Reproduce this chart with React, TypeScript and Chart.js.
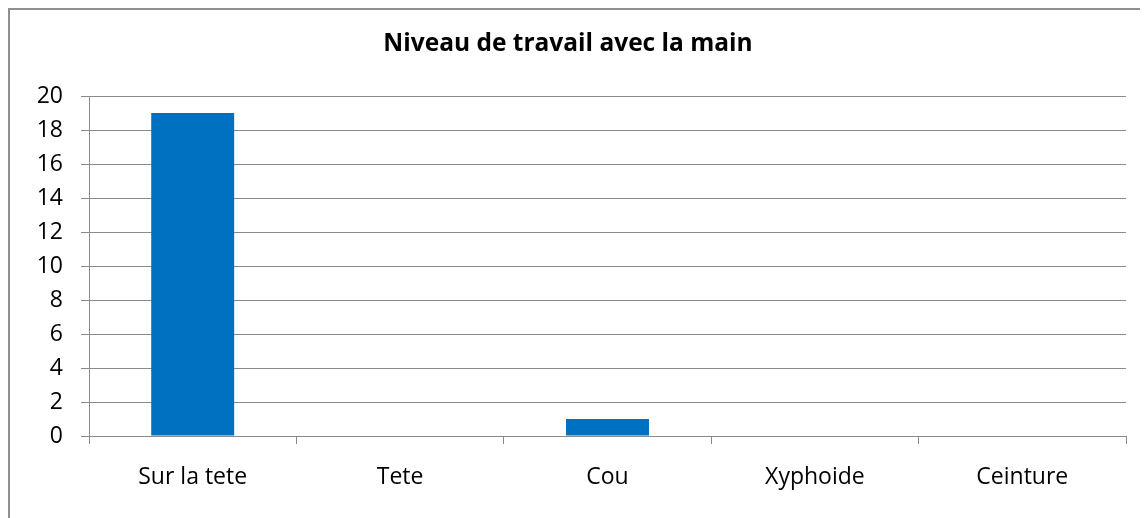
import React, { useEffect, useRef } from "react";
import { Chart, registerables } from "chart.js";

Chart.register(...registerables);

const categories = ["Sur la tete", "Tete", "Cou", "Xyphoide", "Ceinture"];
const values = [19, 0, 1, 0, 0];
const titleText = "Niveau de travail avec la main";
const yMin = 0;
const yMax = 20;
const yStep = 2;

const FONT = "'Open Sans', sans-serif";
const GRID = "#8a8a8a";

export default function App() {
  const ref = useRef<HTMLCanvasElement | null>(null);

  useEffect(() => {
    if (!ref.current) return;
    const chart = new Chart(ref.current, {
      type: "bar",
      data: {
        labels: categories,
        datasets: [
          {
            data: values,
            backgroundColor: "#0070C0",
            borderWidth: 0,
            barPercentage: 0.4,
            categoryPercentage: 1,
          },
        ],
      },
      options: {
        animation: false,
        responsive: false,
        maintainAspectRatio: false,
        layout: { padding: { left: 0, right: 22, top: 0, bottom: 0 } },
        plugins: {
          legend: { display: false },
          tooltip: { enabled: false },
          title: {
            display: true,
            text: titleText,
            color: "#000",
            font: { family: FONT, size: 24.5, weight: "bold" },
            padding: { top: 19.5, bottom: 37.1 },
          },
        },
        scales: {
          x: {
            grid: {
              display: true,
              drawOnChartArea: false,
              drawTicks: true,
              tickLength: 8,
              color: GRID,
              offset: true,
            },
            border: { display: true, color: GRID, width: 1 },
            ticks: {
              color: "#000",
              font: { family: FONT, size: 23 },
              padding: 20,
              maxRotation: 0,
              autoSkip: false,
            },
            afterFit: (s: any) => {
              s.height = 82;
            },
          },
          y: {
            min: yMin,
            max: yMax,
            ticks: {
              stepSize: yStep,
              color: "#000",
              font: { family: FONT, size: 23 },
              padding: 18,
            },
            grid: {
              color: GRID,
              tickLength: 8,
              drawTicks: true,
            },
            border: { display: true, color: GRID, width: 1 },
            afterFit: (s: any) => {
              s.width = 79;
            },
          },
        },
      },
    });
    return () => chart.destroy();
  }, []);

  return (
    <div
      style={{
        position: "relative",
        width: 1140,
        height: 510,
        borderTop: "2px solid #8f8f8f",
        borderLeft: "2px solid #8f8f8f",
        boxSizing: "border-box",
        background: "#fff",
      }}
    >
      <canvas ref={ref} width={1138} height={508} style={{ display: "block" }} />
    </div>
  );
}
